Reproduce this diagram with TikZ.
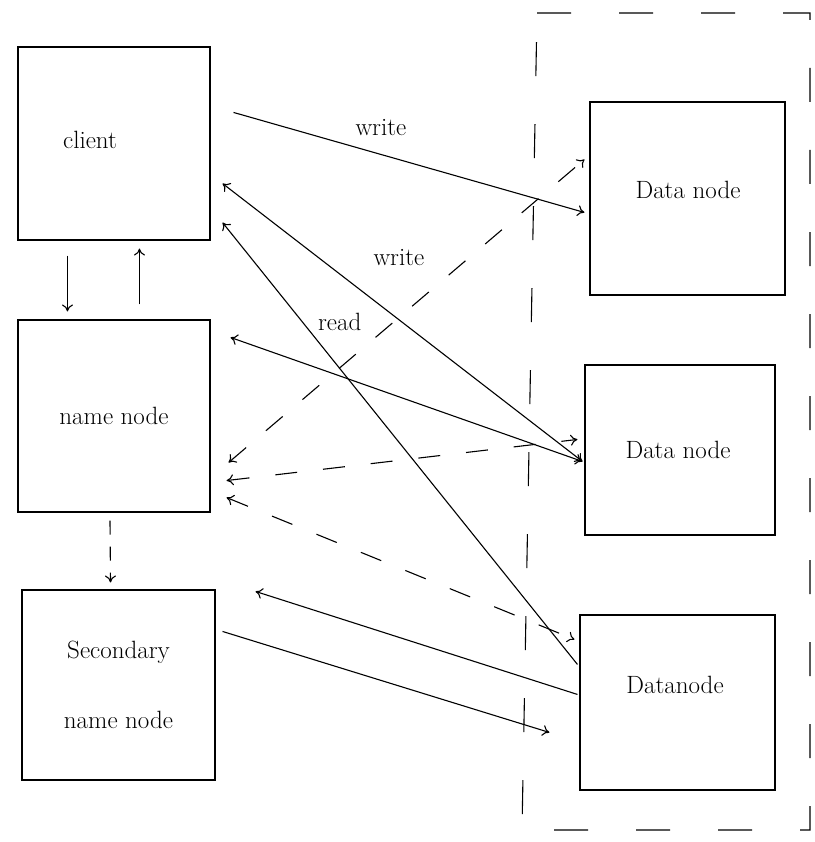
\documentclass[tikz,border=0pt]{standalone}
\usepackage{fontspec}
\usetikzlibrary{arrows.meta,calc}
\begin{document}
\begin{tikzpicture}[x=1pt,y=-1pt,
  line width=1.1pt,
  >={To[length=7pt,width=11pt]},
  box/.style={draw,rectangle,inner sep=0pt,font=\fontsize{25}{30}\selectfont},
  lbl/.style={font=\fontsize{25}{30}\selectfont,inner sep=1pt},
  dsh/.style={dash pattern=on 22pt off 26pt},
  region/.style={dash pattern=on 34pt off 48pt}]
\useasboundingbox (0,0) rectangle (814,842);
% region of data nodes
\draw[region] (537,13) -- (810,13) -- (810,830) -- (522,830) -- cycle;
% boxes
\node[box,minimum width=192pt,minimum height=193pt] (client) at (114,143.5) {};
\node[lbl] (clientlbl) at (90,140) {client};
\node[box,minimum width=192pt,minimum height=192pt] (namenode) at (114,416) {name node};
\node[box,minimum width=193pt,minimum height=190pt,align=center] (secondary) at (118.5,685) {Secondary\\[40pt]name node};
\node[box,minimum width=195pt,minimum height=193pt] (dn1) at (687.5,198.5) {};
\node[lbl] (dn1lbl) at (688,190) {Data node};
\node[box,minimum width=190pt,minimum height=170pt] (dn2) at (680,450) {};
\node[lbl] (dn2lbl) at (678,450) {Data node};
\node[box,minimum width=195pt,minimum height=175pt] (dn3) at (677.5,702.5) {};
\node[lbl] (dn3lbl) at (675,685) {Datanode};
% free ends
\coordinate (secin) at ($(secondary.north east)+(40,2)$);
\coordinate (dn3in) at ($(dn3.north west)+(-30,118)$);
% client <-> name node
\draw[->] ($(client.south west)+(50,15)$) -- ($(namenode.north west)+(50,-8)$);
\draw[->] ($(namenode.north west)+(122,-15)$) -- ($(client.south west)+(122,8)$);
% name node -> secondary (dashed)
\draw[->,dash pattern=on 14pt off 12pt] ($(namenode.south)+(-4,8)$) -- ($(secondary.north)+(-8,-7)$);
% client writes
\draw[->] ($(client.north east)+(23,66)$) -- node[lbl,pos=0.42,yshift=27pt] {write} ($(dn1.north west)+(-5,111)$);
\draw[<->] ($(client.east)+(12,40)$) -- node[lbl,pos=0.49,yshift=62pt] {write} ($(dn2.north west)+(-2,97)$);
% read
\draw[->] ($(dn3.north west)+(-2,50)$) -- node[lbl,pos=0.67,yshift=46pt] {read} ($(client.south east)+(12,-18)$);
% name node <-> data node 2
\draw[<->] ($(namenode.north east)+(20,18)$) -- ($(dn2.north west)+(-2,97)$);
% heartbeat dashed lines
\draw[<->,dsh] ($(namenode.south east)+(18,-50)$) -- ($(dn1.north west)+(-5,58)$);
\draw[<->,dsh] ($(namenode.south east)+(16,-32)$) -- ($(dn2.north west)+(-7,75)$);
\draw[<->,dsh] ($(namenode.south east)+(16,-15)$) -- ($(dn3.north west)+(-5,25)$);
% data node 3 <-> secondary
\draw[->] ($(dn3.north west)+(-2,80)$) -- (secin);
\draw[->] ($(secondary.north east)+(7,42)$) -- (dn3in);
\end{tikzpicture}
\end{document}
